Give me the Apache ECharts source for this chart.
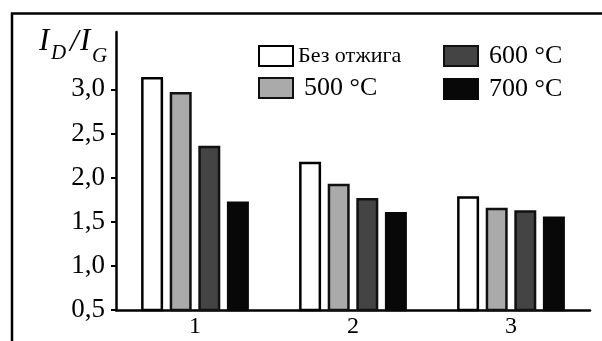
<!DOCTYPE html>
<html><head><meta charset="utf-8">
<script src="https://cdn.jsdelivr.net/npm/echarts@6/dist/echarts.min.js"></script>
<style>html,body{margin:0;padding:0;background:#fff}#c{width:602px;height:341px}</style>
</head><body><div id="c"></div>
<script>
const categories = ['1', '2', '3'];
const seriesNames = ['Без отжига', '500 °C', '600 °C', '700 °C'];
const noAnneal = [3.14, 2.18, 1.79];
const t500 = [2.97, 1.93, 1.66];
const t600 = [2.36, 1.77, 1.63];
const t700 = [1.73, 1.61, 1.56];
const yTicks = [0.5, 1.0, 1.5, 2.0, 2.5, 3.0];

const fills = ['#ffffff', '#aaaaaa', '#444444', '#080808'];
const borders = ['#000000', '#111111', '#111111', '#080808'];
const values = [noAnneal, t500, t600, t700];
const serif = 'Liberation Serif, Times New Roman, serif';

const chart = echarts.init(document.getElementById('c'), null, {renderer: 'canvas'});
const series = seriesNames.map((n, i) => ({
  name: n, type: 'bar', data: values[i], barWidth: 22, barGap: '30%',
  itemStyle: {color: fills[i], borderColor: borders[i], borderWidth: 2.5},
  emphasis: {disabled: true}
}));
const legendCommon = {
  orient: 'vertical', itemWidth: 34, itemHeight: 20, itemGap: 8,
  icon: 'rect', selectedMode: false,
  textStyle: {fontFamily: serif, color: '#000', lineHeight: 21}
};
chart.setOption({
  animation: false,
  grid: {left: 116, right: 12, top: 32, bottom: 31},
  legend: [
    Object.assign({}, legendCommon, {left: 253, top: 40, itemGap: 8, data: [seriesNames[0], seriesNames[1]],
      textStyle: Object.assign({}, legendCommon.textStyle, {fontSize: 22, rich: {b: {fontSize: 26, fontFamily: serif, padding: [0,0,0,6]}}}),
      formatter: function (n) { return n === seriesNames[1] ? '{b|' + n + '}' : n; }}),
    Object.assign({}, legendCommon, {left: 438, top: 38, itemGap: 7, data: [seriesNames[2], seriesNames[3]],
      textStyle: Object.assign({}, legendCommon.textStyle, {fontSize: 26, padding: [0,0,0,6]})})
  ],
  xAxis: {
    type: 'category', data: categories,
    axisLine: {lineStyle: {color: '#000', width: 2.5}},
    axisTick: {show: false},
    axisLabel: {fontFamily: serif, fontSize: 24, color: '#000', margin: 5}
  },
  yAxis: {
    type: 'value', min: 0.5, max: 3.65, interval: 0.5,
    splitLine: {show: false},
    axisLine: {show: true, lineStyle: {color: '#000', width: 2.5}},
    axisTick: {show: true, length: 5, lineStyle: {color: '#000', width: 2}, customValues: yTicks},
    axisLabel: {fontFamily: serif, fontSize: 27, color: '#000', margin: 11, customValues: yTicks,
      formatter: v => v.toFixed(1).replace('.', ',')}
  },
  series: series,
  graphic: [
    {type: 'rect', silent: true, shape: {x: 12, y: 13.5, width: 700, height: 500},
      style: {fill: 'none', stroke: '#000', lineWidth: 2.5}},
    {type: 'text', silent: true, style: {x: 39, y: 42, text: 'I', fontFamily: serif, fontStyle: 'italic', fontSize: 31, verticalAlign: 'middle', fill: '#000'}},
    {type: 'text', silent: true, style: {x: 51, y: 53, text: 'D', fontFamily: serif, fontStyle: 'italic', fontSize: 21, verticalAlign: 'middle', fill: '#000'}},
    {type: 'text', silent: true, style: {x: 70, y: 43, text: '/', fontFamily: serif, fontStyle: 'italic', fontSize: 31, verticalAlign: 'middle', fill: '#000'}},
    {type: 'text', silent: true, style: {x: 80, y: 42, text: 'I', fontFamily: serif, fontStyle: 'italic', fontSize: 31, verticalAlign: 'middle', fill: '#000'}},
    {type: 'text', silent: true, style: {x: 92, y: 56, text: 'G', fontFamily: serif, fontStyle: 'italic', fontSize: 21, verticalAlign: 'middle', fill: '#000'}}
  ]
});
</script></body></html>
